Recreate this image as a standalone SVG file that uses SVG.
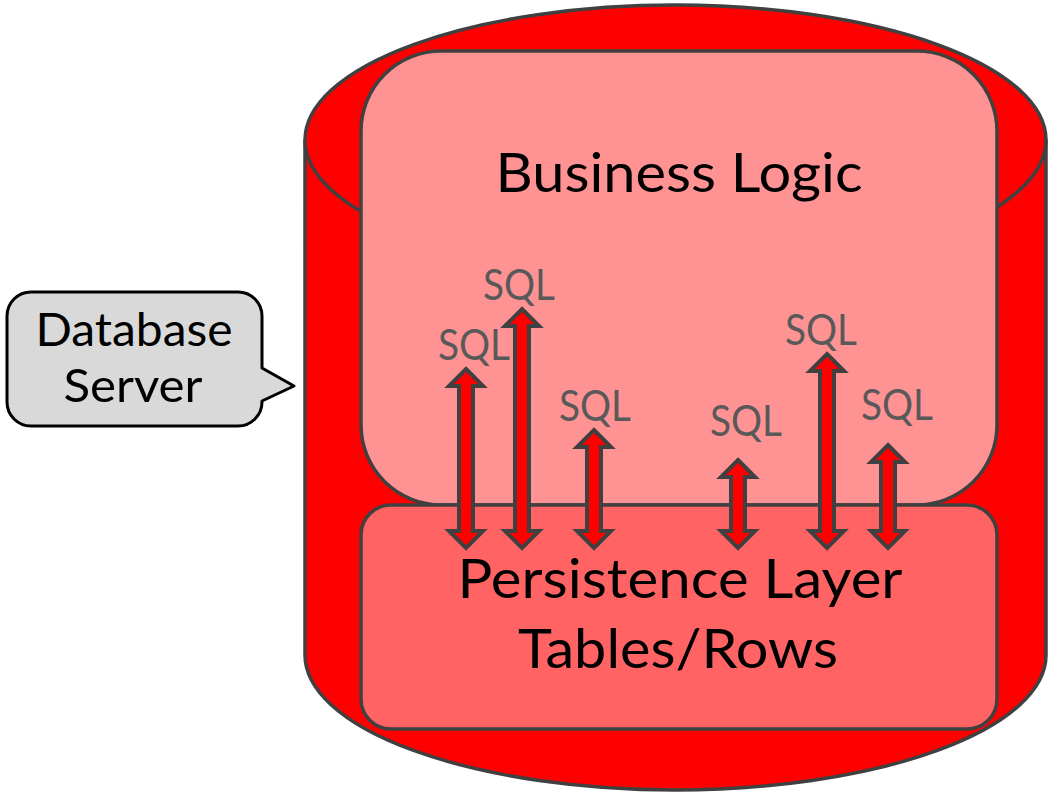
<svg xmlns="http://www.w3.org/2000/svg" width="1048" height="793" viewBox="0 0 1048 793">
  <style>
    .outline { stroke: #404040; stroke-width: 3.5; stroke-linejoin: round; }
    .label { font-family: Lato, "Liberation Sans", sans-serif; fill: #000000; text-anchor: middle; }
    .sql { font-family: Lato, "Liberation Sans", sans-serif; fill: #595959; text-anchor: middle; font-size: 42px; }
    .arrow { fill: #ff0000; stroke: #404040; stroke-width: 4; stroke-linejoin: miter; }
  </style>

  <!-- database cylinder -->
  <g id="database-cylinder">
    <path class="outline" fill="#ff0000" d="M305,140 A370.5,135 0 0 1 1046,140 L1046,655 A370.5,135 0 0 1 305,655 Z"/>
    <path class="outline" fill="none" d="M305,140 A370.5,135 0 0 0 1046,140"/>
  </g>

  <!-- business logic block -->
  <g id="business-logic">
    <rect class="outline" x="361" y="51" width="636" height="454" rx="80" ry="80" fill="#ff9393"/>
    <text class="label" x="679" y="192" font-size="54" textLength="367" lengthAdjust="spacingAndGlyphs">Business Logic</text>
  </g>

  <!-- persistence layer block -->
  <g id="persistence-layer">
    <rect class="outline" x="361" y="505" width="636" height="224" rx="30" ry="30" fill="#ff6363"/>
    <text class="label" x="680" y="598" font-size="54" textLength="445" lengthAdjust="spacingAndGlyphs">Persistence Layer</text>
    <text class="label" x="678" y="668" font-size="54" textLength="320" lengthAdjust="spacingAndGlyphs">Tables/Rows</text>
  </g>

  <!-- callout -->
  <g id="database-server">
    <path fill="#d9d9d9" stroke="#000000" stroke-width="3" stroke-linejoin="round"
          d="M31,292 H238 A24,24 0 0 1 262,316 V368 L294,386 L262,401 V402 A24,24 0 0 1 238,426 H31 A24,24 0 0 1 7,402 V316 A24,24 0 0 1 31,292 Z"/>
    <text class="label" x="134" y="346" font-size="47" textLength="197" lengthAdjust="spacingAndGlyphs">Database</text>
    <text class="label" x="133" y="402" font-size="47" textLength="139" lengthAdjust="spacingAndGlyphs">Server</text>
  </g>

  <!-- SQL connectors between the layers -->
  <g id="connectors">
    <path class="arrow" d="M466,369 L483,386 L473,386 L473,531 L483,531 L466,548 L449,531 L459,531 L459,386 L449,386 Z"/>
    <path class="arrow" d="M522,309 L539,326 L529,326 L529,531 L539,531 L522,548 L505,531 L515,531 L515,326 L505,326 Z"/>
    <path class="arrow" d="M594,430 L611,447 L601,447 L601,531 L611,531 L594,548 L577,531 L587,531 L587,447 L577,447 Z"/>
    <path class="arrow" d="M738,460 L755,477 L745,477 L745,531 L755,531 L738,548 L721,531 L731,531 L731,477 L721,477 Z"/>
    <path class="arrow" d="M827,354 L844,371 L834,371 L834,531 L844,531 L827,548 L810,531 L820,531 L820,371 L810,371 Z"/>
    <path class="arrow" d="M888,445 L905,462 L895,462 L895,531 L905,531 L888,548 L871,531 L881,531 L881,462 L871,462 Z"/>
    <text class="sql" x="474" y="360" textLength="72" lengthAdjust="spacingAndGlyphs">SQL</text>
    <text class="sql" x="519" y="300" textLength="72" lengthAdjust="spacingAndGlyphs">SQL</text>
    <text class="sql" x="595" y="421" textLength="72" lengthAdjust="spacingAndGlyphs">SQL</text>
    <text class="sql" x="746" y="436" textLength="72" lengthAdjust="spacingAndGlyphs">SQL</text>
    <text class="sql" x="821" y="345" textLength="72" lengthAdjust="spacingAndGlyphs">SQL</text>
    <text class="sql" x="897" y="420" textLength="72" lengthAdjust="spacingAndGlyphs">SQL</text>
  </g>
</svg>
